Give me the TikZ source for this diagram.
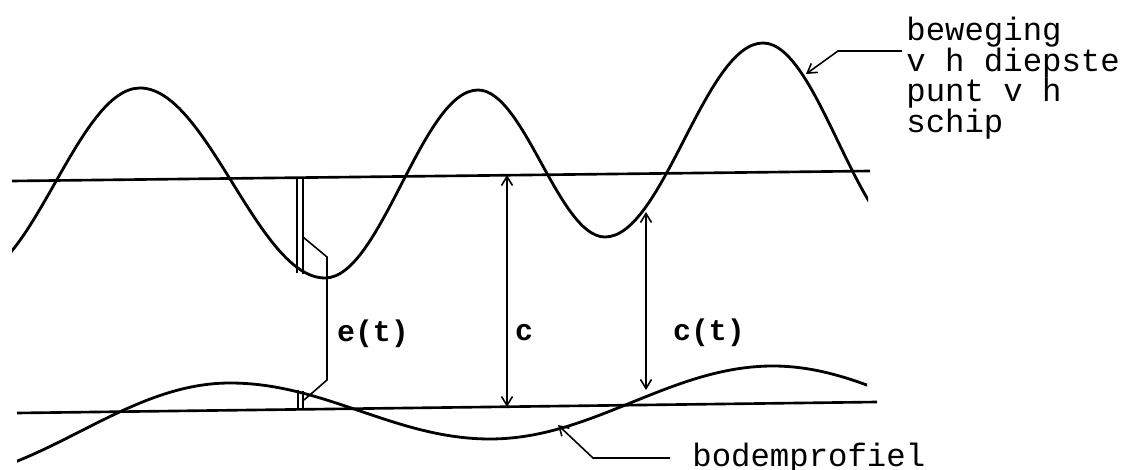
\documentclass[tikz,border=0pt]{standalone}
\usepackage{fontspec}
\setmainfont{Liberation Mono}
\usepackage{tikz}
\usetikzlibrary{arrows.meta}

\tikzset{
  barb/.tip={Straight Barb[length=1.8mm, width=2.2mm]},
  curve/.style={line width=1.6pt, line join=round},
  level/.style={line width=1.5pt},
  keel/.style={line width=0.9pt},
  measure/.style={line width=0.9pt, barb-barb},
  leader/.style={line width=0.9pt, -barb},
  lbl/.style={font=\bfseries\fontsize{17}{20}\selectfont, inner sep=0pt},
  note/.style={font=\fontsize{18.4}{17.4}\selectfont, inner sep=0pt, align=left}
}

\begin{document}
\begin{tikzpicture}[x=0.2mm, y=-0.2mm]
        \useasboundingbox (0,0) rectangle (1125,470);
        % Reference lines
        \coordinate (topL) at (12,181);
        \coordinate (topR) at (870,171);
        \coordinate (botL) at (17,413);
        \coordinate (botR) at (877,402);
        \draw[level] (topL) -- (topR);
        \draw[level] (botL) -- (botR);
        % Motion of the lowest point of the ship
        \begin{scope}
          \clip (12,0) rectangle (868,470);
          \draw[curve] (-30,278) .. controls (32,278) and (78,88) .. (140,88)
            .. controls (207,88) and (258,278) .. (325,278)
            .. controls (381,278) and (422,90) .. (478,90)
            .. controls (524,90) and (559,237) .. (605,237)
            .. controls (663,237) and (705,43) .. (763,43)
            .. controls (818,43) and (858,240) .. (913,240);
        \end{scope}
        % Bottom profile
        \begin{scope}
          \clip (17,0) rectangle (867,470);
          \draw[curve] (-70,480) .. controls (39,480) and (121,383) .. (230,383)
            .. controls (325,383) and (395,439) .. (490,439)
            .. controls (593,439) and (670,366) .. (773,366)
            .. controls (874,366) and (949,440) .. (1050,440);
        \end{scope}
        % Keel marks
        \draw[keel] (297,177) -- (297,273);
        \draw[keel] (303,177) -- (303,274);
        \draw[keel] (298,390) -- (298,408);
        \draw[keel] (303,391) -- (303,408);
        \draw[keel] (303,237) -- (327,257) -- (327,380) -- (304,400);
        % Distances
        \coordinate (cTop) at (507,175);
        \coordinate (cBot) at (507,407);
        \coordinate (ctTop) at (646,212);
        \coordinate (ctBot) at (646,390);
        \draw[measure] (cTop) -- (cBot);
        \draw[measure] (ctTop) -- (ctBot);
        \node[lbl] (et) at (373,334) {e(t)};
        \node[lbl] (c) at (524,333) {c};
        \node[lbl] (ct) at (709,333) {c(t)};
        % Labels
        \node[note, anchor=north west] (bw) at (906,17) {beweging\\v h diepste\\punt v h\\schip};
        \coordinate (bwEnd) at (902,51);
        \coordinate (bwKnee) at (838,51);
        \coordinate (bwTip) at (806,74);
        \draw[leader] (bwEnd) -- (bwKnee) -- (bwTip);
        \node[note, anchor=west] (bp) at (692,458) {bodemprofiel};
        \coordinate (bpTip) at (558,425);
        \draw[leader, shorten <=4.4mm] (bp.west) -- ++(-99,0) -- (bpTip);
\end{tikzpicture}
\end{document}
